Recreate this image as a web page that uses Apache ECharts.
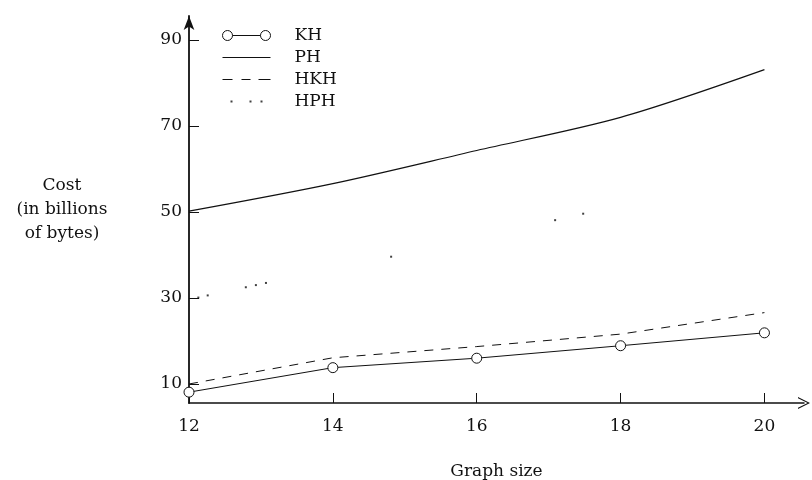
<!DOCTYPE html>
<html>
<head>
<meta charset="utf-8">
<script src="https://cdn.jsdelivr.net/npm/echarts@6/dist/echarts.min.js"></script>
<style>html,body{margin:0;padding:0;background:#fff;}#c{width:812px;height:480px;}</style>
</head>
<body>
<div id="c"></div>
<script>
// Data
const graphSizes = [12, 14, 16, 18, 20];
const khValues  = [8.1, 13.8, 16.0, 18.9, 21.9];
const phValues  = [50.2, 56.6, 64.3, 72.0, 83.1];
const hkhValues = [10.0, 16.1, 18.7, 21.6, 26.6];
// HPH is drawn in the reference as a sparse dotted curve; visible dots:
const hphX = [12.13, 12.26, 12.79, 12.93, 13.07, 14.81, 17.09, 17.48];
const hphY = [30.1, 30.6, 32.5, 33.0, 33.5, 39.6, 48.1, 49.6];
const xTickLabels = [12, 14, 16, 18, 20];
const yTickLabels = [10, 30, 50, 70, 90];
const seriesNames = ['KH', 'PH', 'HKH', 'HPH'];

const FONT = 'DejaVu Serif';
const INK = '#111';
const pairs = (xs, ys) => xs.map((x, i) => [x, ys[i]]);

const chart = echarts.init(document.getElementById('c'), null, {renderer: 'canvas'});
chart.setOption({
  animation: false,
  backgroundColor: '#fff',
  textStyle: {fontFamily: FONT, color: INK},
  grid: {left: 189, right: 8, top: 16, bottom: 77, containLabel: false, outerBoundsMode: 'none'},
  legend: {
    orient: 'vertical',
    left: 222,
    top: 27,
    padding: 0,
    itemWidth: 48,
    itemHeight: 10,
    itemGap: 5,
    textStyle: {fontFamily: FONT, fontSize: 17, color: INK, padding: [0, 0, 0, 19]},
    data: [
      {name: seriesNames[0],
       icon: 'path://M0,5a5,5 0 1,0 10,0a5,5 0 1,0 -10,0zM10,5L38,5M38,5a5,5 0 1,0 10,0a5,5 0 1,0 -10,0z',
       itemStyle: {color: 'rgba(0,0,0,0)', borderColor: INK, borderWidth: 1}},
      {name: seriesNames[1],
       icon: 'path://M0,0M48,10M0,5L48,5',
       itemStyle: {color: 'rgba(0,0,0,0)', borderColor: INK, borderWidth: 1}},
      {name: seriesNames[2],
       icon: 'path://M0,0M48,10M0,5L10,5M19,5L28,5M36,5L48,5',
       itemStyle: {color: 'rgba(0,0,0,0)', borderColor: INK, borderWidth: 1}},
      {name: seriesNames[3],
       icon: 'path://M0,0M48,10M8,4h2v2h-2zM27,4h2v2h-2zM38,4h2v2h-2z',
       itemStyle: {color: INK, borderWidth: 0}}
    ]
  },
  xAxis: {
    type: 'value',
    min: 12,
    max: 20.55,
    name: 'Graph size',
    nameLocation: 'middle',
    nameGap: 60,
    nameTextStyle: {fontFamily: FONT, fontSize: 17, color: INK},
    axisLine: {show: true, lineStyle: {color: INK, width: 1.5},
      symbol: ['none', 'path://M0,12L6,0L12,12L10.8,12L6,2.4L1.2,12Z'], symbolSize: [12, 12]},
    axisTick: {show: true, inside: true, length: 10, lineStyle: {color: INK, width: 1}, customValues: xTickLabels},
    axisLabel: {show: true, margin: 15, fontFamily: FONT, fontSize: 17, color: INK, customValues: xTickLabels},
    splitLine: {show: false}
  },
  yAxis: {
    type: 'value',
    min: 5.58,
    max: 95.58,
    name: 'Cost\n(in billions\nof bytes)',
    nameLocation: 'middle',
    nameRotate: 0,
    nameGap: 127,
    nameTextStyle: {fontFamily: FONT, fontSize: 17, color: INK, align: 'center', verticalAlign: 'middle', lineHeight: 24, padding: [6, 0, 0, 0]},
    axisLine: {show: true, lineStyle: {color: INK, width: 1.8}, symbol: ['none', 'arrow'], symbolSize: [8, 14]},
    axisTick: {show: true, inside: true, length: 10, lineStyle: {color: INK, width: 1}, customValues: yTickLabels},
    axisLabel: {show: true, margin: 7, fontFamily: FONT, fontSize: 17, color: INK, customValues: yTickLabels},
    splitLine: {show: false}
  },
  series: [
    {name: seriesNames[0], type: 'line', data: pairs(graphSizes, khValues),
     symbol: 'circle', symbolSize: 10, showSymbol: true,
     lineStyle: {color: INK, width: 1}, itemStyle: {color: '#fff', borderColor: INK, borderWidth: 1}},
    {name: seriesNames[1], type: 'line', data: pairs(graphSizes, phValues), smooth: 0.3,
     symbol: 'none', lineStyle: {color: INK, width: 1.2}, itemStyle: {color: INK}},
    {name: seriesNames[2], type: 'line', data: pairs(graphSizes, hkhValues),
     symbol: 'none', lineStyle: {color: INK, width: 1, type: [9, 8]}, itemStyle: {color: INK}},
    {name: seriesNames[3], type: 'scatter', data: pairs(hphX, hphY),
     symbol: 'rect', symbolSize: 2, itemStyle: {color: INK}}
  ]
});
</script>
</body>
</html>
